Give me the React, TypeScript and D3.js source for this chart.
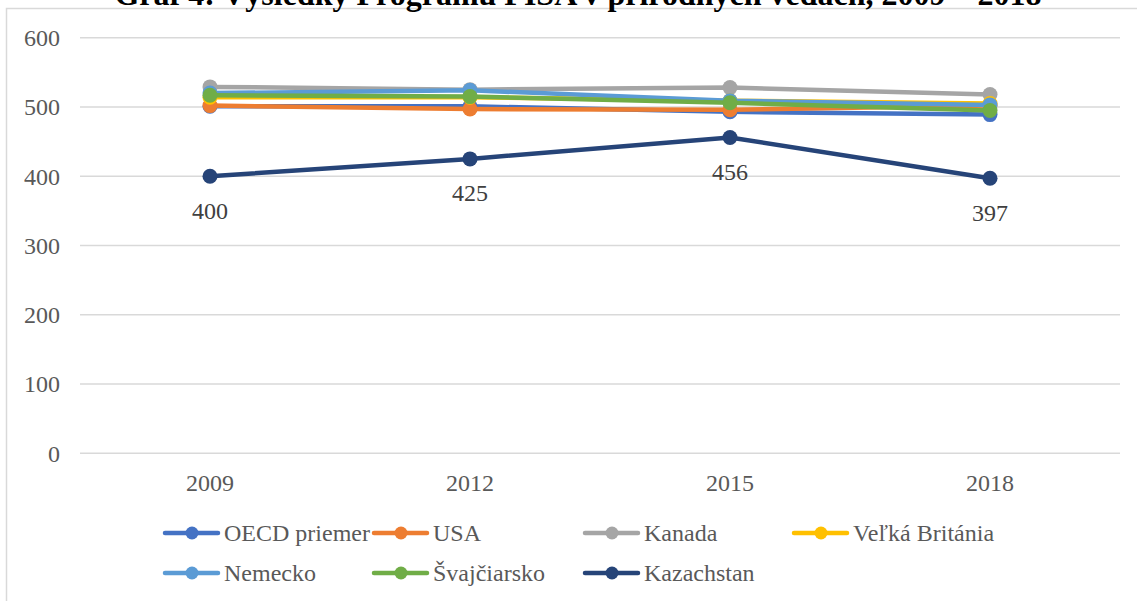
import { useMemo } from "react";
import * as d3 from "d3";

const years = ["2009", "2012", "2015", "2018"];
const yTicks = [0, 100, 200, 300, 400, 500, 600];

const oecd = [501, 501, 493, 489];
const usa = [502, 497, 496, 502];
const kanada = [529, 525, 528, 518];
const britania = [514, 514, 509, 505];
const nemecko = [520, 524, 509, 503];
const svajciarsko = [517, 515, 506, 495];
const kazachstan = [400, 425, 456, 397];

const seriesNames = [
  "OECD priemer",
  "USA",
  "Kanada",
  "Veľká Británia",
  "Nemecko",
  "Švajčiarsko",
  "Kazachstan",
];
const seriesValues = [oecd, usa, kanada, britania, nemecko, svajciarsko, kazachstan];
const colors = ["#4472C4", "#ED7D31", "#A5A5A5", "#FFC000", "#5B9BD5", "#70AD47", "#264478"];

const WIDTH = 1137;
const HEIGHT = 601;
const FONT = "'Liberation Serif', 'Times New Roman', serif";

export default function App() {
  const x = useMemo(
    () => d3.scalePoint<string>().domain(years).range([80, 1120]).padding(0.5),
    []
  );
  const y = useMemo(() => d3.scaleLinear().domain([0, 600]).range([453.3, 37.7]), []);

  const line = d3
    .line<number>()
    .x((_, i) => x(years[i]) as number)
    .y((d) => y(d));

  const legendCols = [165, 374, 585, 794];
  const legendRows = [533, 573];

  return (
    <svg
      width={WIDTH}
      height={HEIGHT}
      style={{ position: "absolute", left: 0, top: 0, background: "#fff" }}
    >
      <rect x={6.5} y={8.5} width={1200} height={700} fill="#fff" stroke="#D9D9D9" strokeWidth={1.5} />
      <text
        x={578}
        y={5}
        textAnchor="middle"
        fontFamily={FONT}
        fontWeight="bold"
        fontSize={32}
        fill="#000"
      >
        Graf 4: Výsledky Programu PISA v prírodných vedách, 2009 – 2018
      </text>

      {yTicks.map((t) => (
        <g key={t}>
          <line x1={80} x2={1120} y1={y(t)} y2={y(t)} stroke="#D9D9D9" strokeWidth={1.5} />
          <text
            x={60}
            y={y(t)}
            dy="0.35em"
            textAnchor="end"
            fontFamily={FONT}
            fontSize={24}
            fill="#595959"
          >
            {t}
          </text>
        </g>
      ))}

      {years.map((yr) => (
        <text
          key={yr}
          x={x(yr)}
          y={483}
          dy="0.35em"
          textAnchor="middle"
          fontFamily={FONT}
          fontSize={24}
          fill="#595959"
        >
          {yr}
        </text>
      ))}

      {seriesValues.map((vals, si) => (
        <g key={seriesNames[si]}>
          <path
            d={line(vals) || undefined}
            fill="none"
            stroke={colors[si]}
            strokeWidth={4.5}
            strokeLinejoin="round"
            strokeLinecap="round"
          />
          {vals.map((v, i) => (
            <circle key={i} cx={x(years[i])} cy={y(v)} r={7.5} fill={colors[si]} />
          ))}
        </g>
      ))}

      {kazachstan.map((v, i) => (
        <text
          key={i}
          x={x(years[i])}
          y={y(v) + 34}
          dy="0.35em"
          textAnchor="middle"
          fontFamily={FONT}
          fontSize={24}
          fill="#404040"
        >
          {v}
        </text>
      ))}

      {seriesNames.map((name, i) => {
        const lx = legendCols[i % 4];
        const ly = legendRows[Math.floor(i / 4)];
        return (
          <g key={name}>
            <line
              x1={lx}
              x2={lx + 53}
              y1={ly}
              y2={ly}
              stroke={colors[i]}
              strokeWidth={4.5}
              strokeLinecap="round"
            />
            <circle cx={lx + 27} cy={ly} r={6.5} fill={colors[i]} />
            <text
              x={lx + 59}
              y={ly}
              dy="0.35em"
              fontFamily={FONT}
              fontSize={24}
              fill="#595959"
            >
              {name}
            </text>
          </g>
        );
      })}
    </svg>
  );
}
